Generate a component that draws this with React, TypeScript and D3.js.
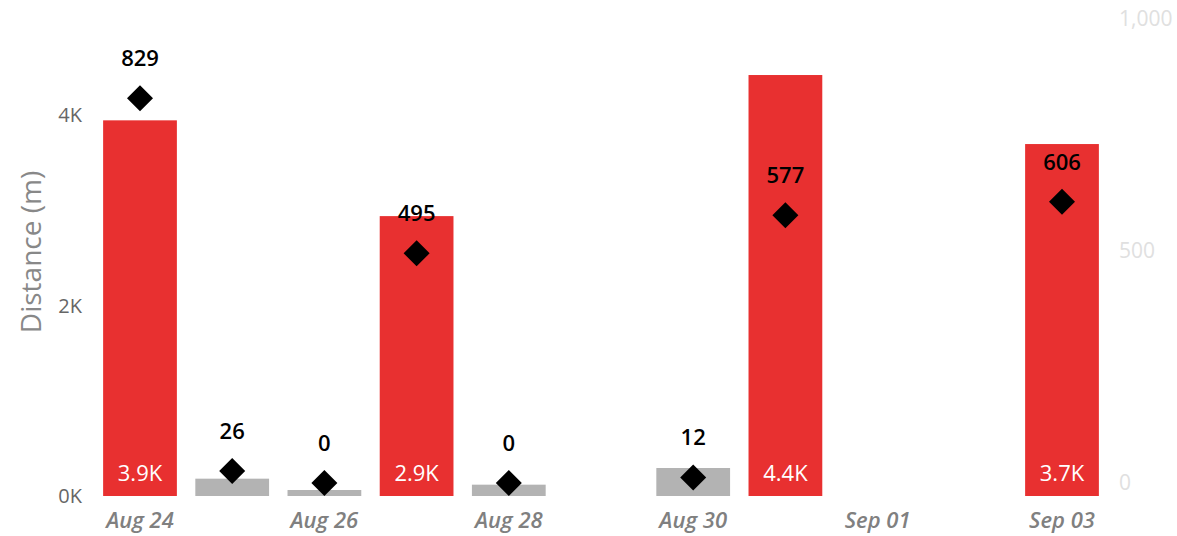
import { useEffect, useRef } from "react";
import * as d3 from "d3";

const WIDTH = 1177;
const HEIGHT = 536;

// one entry per day, null where there was no activity
const days = [
  "Aug 24", "Aug 25", "Aug 26", "Aug 27", "Aug 28", "Aug 29",
  "Aug 30", "Aug 31", "Sep 01", "Sep 02", "Sep 03",
];
const distance: (number | null)[] = [3946, 182, 63, 2940, 119, null, 294, 4422, null, null, 3697];
const count: (number | null)[] = [829, 26, 0, 495, 0, null, 12, 577, null, null, 606];
const kind = ["run", "walk", "walk", "run", "walk", null, "walk", "run", null, null, "run"];
const tickDays = ["Aug 24", "Aug 26", "Aug 28", "Aug 30", "Sep 01", "Sep 03"];
const leftTicks = [0, 2000, 4000];
const rightTicks = [0, 500, 1000];

const KIND_COLORS: Record<string, string> = {
  run: "#E83030",
  walk: "#B3B3B3",
};

const FONT = "'Open Sans', 'Noto Sans', sans-serif";

export default function App() {
  const ref = useRef<SVGSVGElement | null>(null);

  useEffect(() => {
    if (!ref.current) return;
    const svg = d3.select(ref.current);
    svg.selectAll("*").remove();

    const x = d3
      .scaleBand<string>()
      .domain(days)
      .range([93.9, 1108.1])
      .paddingInner(0.2)
      .paddingOuter(0.1);
    const yLeft = d3.scaleLinear().domain([0, 5000]).range([496, 20]);
    const yRight = d3.scaleLinear().domain([0, 1000]).range([483, 19]);
    const cx = (d: string) => x(d)! + x.bandwidth() / 2;

    const rows = days.map((d, i) => ({ day: d, dist: distance[i], n: count[i], kind: kind[i] }));

    // left axis
    svg
      .append("g")
      .selectAll("text")
      .data(leftTicks)
      .join("text")
      .attr("x", 82)
      .attr("y", (d) => yLeft(d))
      .attr("dy", "0.35em")
      .attr("text-anchor", "end")
      .attr("fill", "#666")
      .attr("font-family", FONT)
      .attr("font-size", 20)
      .text((d) => `${d / 1000}K`);

    svg
      .append("text")
      .attr("transform", "translate(31,252) rotate(-90)")
      .attr("dy", "0.35em")
      .attr("text-anchor", "middle")
      .attr("fill", "#888")
      .attr("font-family", FONT)
      .attr("font-size", 28)
      .text("Distance (m)");

    // right axis
    svg
      .append("g")
      .selectAll("text")
      .data(rightTicks)
      .join("text")
      .attr("x", 1119)
      .attr("y", (d) => yRight(d))
      .attr("dy", "0.35em")
      .attr("fill", "#E0E0E0")
      .attr("font-family", FONT)
      .attr("font-size", 21)
      .text((d) => d3.format(",")(d));

    // x labels
    svg
      .append("g")
      .selectAll("text")
      .data(tickDays)
      .join("text")
      .attr("x", (d) => cx(d))
      .attr("y", 520)
      .attr("dy", "0.35em")
      .attr("text-anchor", "middle")
      .attr("fill", "#808080")
      .attr("font-family", FONT)
      .attr("font-size", 22)
      .attr("font-style", "italic")
      .attr("font-weight", 600)
      .text((d) => d);

    const withBars = rows.filter((r) => r.dist != null);

    svg
      .append("g")
      .selectAll("rect")
      .data(withBars)
      .join("rect")
      .attr("x", (d) => x(d.day)!)
      .attr("width", x.bandwidth())
      .attr("y", (d) => yLeft(d.dist!))
      .attr("height", (d) => yLeft(0) - yLeft(d.dist!))
      .attr("fill", (d) => KIND_COLORS[d.kind!]);

    svg
      .append("g")
      .selectAll("text")
      .data(withBars.filter((d) => d.dist! >= 1000))
      .join("text")
      .attr("x", (d) => cx(d.day))
      .attr("y", 473)
      .attr("dy", "0.35em")
      .attr("text-anchor", "middle")
      .attr("fill", "#fff")
      .attr("font-family", FONT)
      .attr("font-size", 22)
      .text((d) => `${(d.dist! / 1000).toFixed(1)}K`);

    const withCount = rows.filter((r) => r.n != null);
    const diamond = d3.symbol().type(d3.symbolSquare).size(13 * 13 * 2);

    svg
      .append("g")
      .selectAll("path")
      .data(withCount)
      .join("path")
      .attr("d", diamond)
      .attr("transform", (d) => `translate(${cx(d.day)},${yRight(d.n!)}) rotate(45)`)
      .attr("fill", "#000");

    svg
      .append("g")
      .selectAll("text")
      .data(withCount)
      .join("text")
      .attr("x", (d) => cx(d.day))
      .attr("y", (d) => yRight(d.n!) - 40)
      .attr("dy", "0.35em")
      .attr("text-anchor", "middle")
      .attr("fill", "#000")
      .attr("font-family", FONT)
      .attr("font-size", 22)
      .attr("font-weight", 600)
      .text((d) => d.n!);
  }, []);

  return (
    <svg
      ref={ref}
      width={WIDTH}
      height={HEIGHT}
      style={{ position: "absolute", left: 0, top: 0, background: "#fff" }}
    />
  );
}
